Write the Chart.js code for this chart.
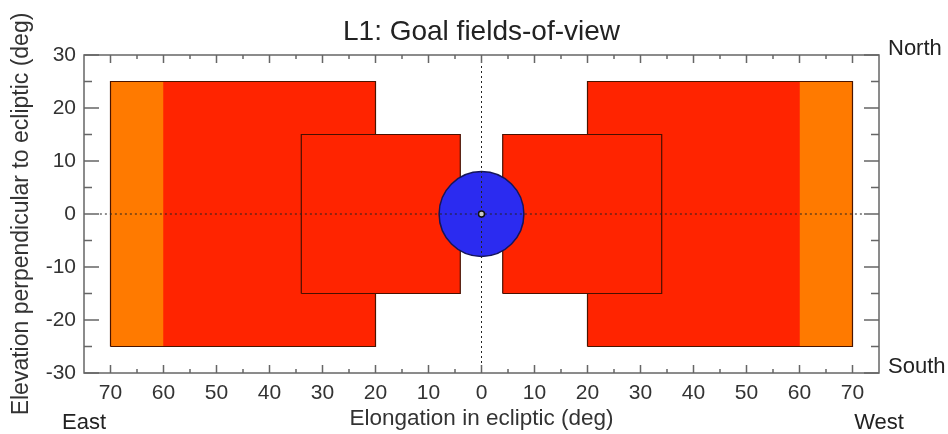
<!DOCTYPE html>
<html>
<head>
<meta charset="utf-8">
<title>L1: Goal fields-of-view</title>
<script src="https://cdn.jsdelivr.net/npm/chart.js@4/dist/chart.umd.min.js"></script>
<style>
  html, body { margin: 0; padding: 0; background: #fff; }
  #wrap { width: 948px; height: 434px; }
</style>
</head>
<body>
<div id="wrap"><canvas id="fov"></canvas></div>
<script>
// fields of view in degrees, x is |elongation| (east on the left, west on the right)
const wideX = [20, 70];      // wide field
const wideY = [-25, 25];
const orangeX = [60, 70];    // outer part of the wide field
const innerX = [4, 34];      // inner field
const innerY = [-15, 15];
const diskRadius = 8;        // blue disk around the centre
const eclipticX = [-72, 72]; // dotted line y = 0
const meridianY = [-30, 30]; // dotted line x = 0
const xTicks = [-70, -60, -50, -40, -30, -20, -10, 0, 10, 20, 30, 40, 50, 60, 70];
const yTicks = [-30, -20, -10, 0, 10, 20, 30];

const RED = '#ff2400';
const ORANGE = '#ff7a00';
const BLUE = '#2b2bf0';

Chart.defaults.font.family = '"Liberation Sans", Arial, sans-serif';

// east side is the mirror of the west one
function side(range, sign) {
    return sign < 0 ? [-range[1], -range[0]] : range;
}

// top edge of a box, filled down to its lower bound
function boxFill(xr, yr, color, order) {
    return {
        data: [{x: xr[0], y: yr[1]}, {x: xr[1], y: yr[1]}],
        showLine: true,
        fill: {value: yr[0]},
        backgroundColor: color,
        borderColor: 'rgba(0,0,0,0)',
        borderWidth: 1,
        pointRadius: 0,
        order: order
    };
}

function boxEdge(xr, yr, color, order) {
    return {
        data: [
            {x: xr[0], y: yr[0]}, {x: xr[0], y: yr[1]},
            {x: xr[1], y: yr[1]}, {x: xr[1], y: yr[0]}, {x: xr[0], y: yr[0]}
        ],
        showLine: true,
        fill: false,
        borderColor: color,
        borderWidth: 1.2,
        pointRadius: 0,
        order: order
    };
}

function dotted(points, order) {
    return {
        data: points,
        showLine: true,
        fill: false,
        borderColor: '#222',
        borderWidth: 1,
        borderDash: [2, 3],
        pointRadius: 0,
        order: order
    };
}

const datasets = [];
for (const s of [-1, 1]) {
    datasets.push(boxFill(side(wideX, s), wideY, RED, 7));
    datasets.push(boxFill(side(orangeX, s), wideY, ORANGE, 6));
    datasets.push(boxEdge(side(wideX, s), wideY, '#4a1400', 5));
    datasets.push(boxFill(side(innerX, s), innerY, RED, 4));
    datasets.push(boxEdge(side(innerX, s), innerY, '#4a1000', 3));
}
datasets.push({
    data: [{x: 0, y: 0}],
    pointRadius: function(ctx) {
        const sx = ctx.chart.scales.x;
        return Math.abs(sx.getPixelForValue(diskRadius) - sx.getPixelForValue(0));
    },
    pointBackgroundColor: BLUE,
    pointBorderColor: '#15155a',
    pointBorderWidth: 1.5,
    order: 2
});
datasets.push(dotted([{x: eclipticX[0], y: 0}, {x: eclipticX[1], y: 0}], 1));
datasets.push(dotted([{x: 0, y: meridianY[0]}, {x: 0, y: meridianY[1]}], 1));
datasets.push({
    data: [{x: 0, y: 0}],
    pointRadius: 3,
    pointBackgroundColor: '#c8c8c8',
    pointBorderColor: '#111',
    pointBorderWidth: 1.5,
    order: 0
});

// box frame with inward ticks and the side words
const frame = {
    id: 'frame',
    afterDatasetsDraw(chart) {
        const {ctx, chartArea: a, scales: {x, y}} = chart;
        ctx.save();
        ctx.strokeStyle = '#666';
        ctx.lineWidth = 1.5;
        ctx.strokeRect(a.left, a.top, a.right - a.left, a.bottom - a.top);
        ctx.beginPath();
        for (let v = xTicks[0]; v <= xTicks[xTicks.length - 1]; v += 5) {
            const px = x.getPixelForValue(v);
            const len = v % 10 === 0 ? 8 : 4;
            ctx.moveTo(px, a.bottom); ctx.lineTo(px, a.bottom - len);
            ctx.moveTo(px, a.top); ctx.lineTo(px, a.top + len);
        }
        for (let v = yTicks[0]; v <= yTicks[yTicks.length - 1]; v += 5) {
            const py = y.getPixelForValue(v);
            const len = v % 10 === 0 ? 15 : 8;
            ctx.moveTo(a.left, py); ctx.lineTo(a.left + len, py);
            ctx.moveTo(a.right, py); ctx.lineTo(a.right - len, py);
        }
        ctx.stroke();

        ctx.fillStyle = '#222';
        ctx.font = '22px "Liberation Sans", Arial, sans-serif';
        ctx.textBaseline = 'alphabetic';
        ctx.textAlign = 'center';
        ctx.fillText('East', a.left, 429);
        ctx.fillText('West', a.right, 429);
        ctx.textAlign = 'left';
        ctx.fillText('North', a.right + 9, a.top);
        ctx.fillText('South', a.right + 9, a.bottom);
        ctx.restore();
    }
};

new Chart(document.getElementById('fov'), {
    type: 'scatter',
    data: {datasets: datasets},
    options: {
        responsive: true,
        maintainAspectRatio: false,
        animation: false,
        events: [],
        layout: {padding: {right: 69}},
        plugins: {
            legend: {display: false},
            tooltip: {enabled: false},
            title: {
                display: true,
                fullSize: false,
                text: 'L1: Goal fields-of-view',
                color: '#222',
                font: {size: 28, weight: 'normal', lineHeight: 1},
                padding: {top: 18, bottom: 9}
            }
        },
        scales: {
            x: {
                type: 'linear',
                min: -75,
                max: 75,
                afterBuildTicks: function(s) { s.ticks = xTicks.map(v => ({value: v})); },
                afterFit: function(s) { s.height = 61; },
                grid: {display: false, drawTicks: false},
                border: {display: false},
                ticks: {
                    callback: v => Math.abs(v),
                    color: '#333',
                    font: {size: 21},
                    padding: 8,
                    maxRotation: 0,
                    autoSkip: false
                },
                title: {
                    display: true,
                    text: 'Elongation in ecliptic (deg)',
                    color: '#333',
                    font: {size: 22.5},
                    padding: {top: 0, bottom: 2}
                }
            },
            y: {
                type: 'linear',
                min: -30,
                max: 30,
                afterBuildTicks: function(s) { s.ticks = yTicks.map(v => ({value: v})); },
                afterFit: function(s) { s.width = 84; },
                grid: {display: false, drawTicks: false},
                border: {display: false},
                ticks: {
                    color: '#333',
                    font: {size: 21},
                    padding: 8
                },
                title: {
                    display: true,
                    text: 'Elevation perpendicular to ecliptic (deg)',
                    color: '#333',
                    font: {size: 23},
                    padding: {top: 8, bottom: 0}
                }
            }
        }
    },
    plugins: [frame]
});
</script>
</body>
</html>
